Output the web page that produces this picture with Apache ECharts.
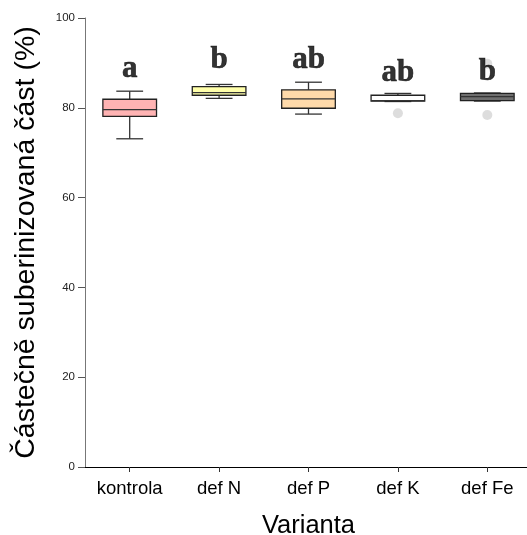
<!DOCTYPE html>
<html>
<head>
<meta charset="utf-8">
<title>Varianta</title>
<script src="https://cdn.jsdelivr.net/npm/echarts@6/dist/echarts.min.js"></script>
<style>
  html, body { margin: 0; padding: 0; background: #fff; }
  #main { width: 527px; height: 535px; }
</style>
</head>
<body>
<div id="main"></div>
<script>
// data
var categories = ['kontrola', 'def N', 'def P', 'def K', 'def Fe'];
// [min, Q1, median, Q3, max]
var boxValues = [
  [73.1, 78.1, 79.6, 81.9, 83.7],
  [82.1, 82.8, 83.4, 84.7, 85.2],
  [78.6, 79.9, 82.0, 84.0, 85.7],
  [81.4, 81.5, 81.6, 82.8, 83.2],
  [81.5, 81.6, 82.5, 83.2, 83.3]
];
// outliers: [category index, value]
var outliers = [[3, 78.8], [4, 78.4], [4, 89.8]];
// significance letters and the height they sit at
var letters = ['a', 'b', 'ab', 'ab', 'b'];
var letterY = [85.3, 87.1, 87.1, 84.2, 84.6];

var boxColors = ['#ffb3b3', '#ffffaa', '#ffdaaa', '#ffffff', '#6e6e6e'];

var chart = echarts.init(document.getElementById('main'));

var boxData = [];
for (var i = 0; i < boxValues.length; i++) {
  boxData.push([i].concat(boxValues[i]));
}
var letterData = [];
for (var i = 0; i < letters.length; i++) {
  letterData.push({ value: [i, letterY[i]], label: { formatter: letters[i] } });
}

function renderBox(params, api) {
  var idx = api.value(0);
  var pMin = api.coord([idx, api.value(1)]);
  var pQ1 = api.coord([idx, api.value(2)]);
  var pMed = api.coord([idx, api.value(3)]);
  var pQ3 = api.coord([idx, api.value(4)]);
  var pMax = api.coord([idx, api.value(5)]);
  var bw = api.size([1, 0])[0] * 0.6;
  var cx = pMed[0];
  var lineStyle = { stroke: '#333', lineWidth: 1.3, fill: null };
  return {
    type: 'group',
    children: [
      { type: 'line', shape: { x1: cx, y1: pQ3[1], x2: cx, y2: pMax[1] }, style: lineStyle },
      { type: 'line', shape: { x1: cx, y1: pQ1[1], x2: cx, y2: pMin[1] }, style: lineStyle },
      { type: 'line', shape: { x1: cx - bw / 4, y1: pMax[1], x2: cx + bw / 4, y2: pMax[1] }, style: lineStyle },
      { type: 'line', shape: { x1: cx - bw / 4, y1: pMin[1], x2: cx + bw / 4, y2: pMin[1] }, style: lineStyle },
      { type: 'rect', shape: { x: cx - bw / 2, y: pQ3[1], width: bw, height: pQ1[1] - pQ3[1] },
        style: { fill: boxColors[idx], stroke: '#222', lineWidth: 1.3 } },
      { type: 'line', shape: { x1: cx - bw / 2, y1: pMed[1], x2: cx + bw / 2, y2: pMed[1] }, style: lineStyle }
    ]
  };
}

var option = {
  animation: false,
  grid: { left: 85, right: -5, top: 18, bottom: 68, containLabel: false, outerBoundsMode: 'none' },
  xAxis: {
    type: 'category',
    data: categories,
    boundaryGap: true,
    name: 'Varianta',
    nameLocation: 'middle',
    nameGap: 46,
    nameTextStyle: { fontFamily: 'Liberation Sans', fontSize: 25.5, color: '#000' },
    axisLine: { lineStyle: { color: '#000', width: 1 } },
    axisTick: { show: true, alignWithLabel: true, length: 5, lineStyle: { color: '#333' } },
    axisLabel: { fontFamily: 'Liberation Sans', fontSize: 18.5, color: '#000', margin: 12 },
    splitLine: { show: false }
  },
  yAxis: {
    type: 'value',
    min: 0,
    max: 100,
    interval: 20,
    name: 'Částečně suberinizovaná část (%)',
    nameLocation: 'middle',
    nameGap: 44,
    nameTextStyle: { fontFamily: 'Liberation Sans', fontSize: 28.5, color: '#000' },
    axisLine: { show: true, lineStyle: { color: '#777', width: 1 } },
    axisTick: { show: true, length: 7, lineStyle: { color: '#555' } },
    axisLabel: { fontFamily: 'Liberation Sans', fontSize: 11.5, color: '#222', margin: 10 },
    splitLine: { show: false }
  },
  series: [
    {
      type: 'custom',
      renderItem: renderBox,
      encode: { x: 0, y: [1, 2, 3, 4, 5] },
      data: boxData,
      z: 2
    },
    {
      type: 'scatter',
      data: outliers,
      symbolSize: 10,
      itemStyle: { color: '#d4d4d4' },
      z: 3
    },
    {
      type: 'scatter',
      data: letterData,
      symbolSize: 0,
      silent: true,
      label: {
        show: true,
        position: 'inside',
        verticalAlign: 'bottom',
        fontFamily: 'Liberation Serif',
        fontWeight: 'bold',
        fontSize: 31,
        color: '#000',
        textBorderColor: '#000',
        textBorderWidth: 0.6
      },
      z: 5
    }
  ]
};

chart.setOption(option);
</script>
</body>
</html>
